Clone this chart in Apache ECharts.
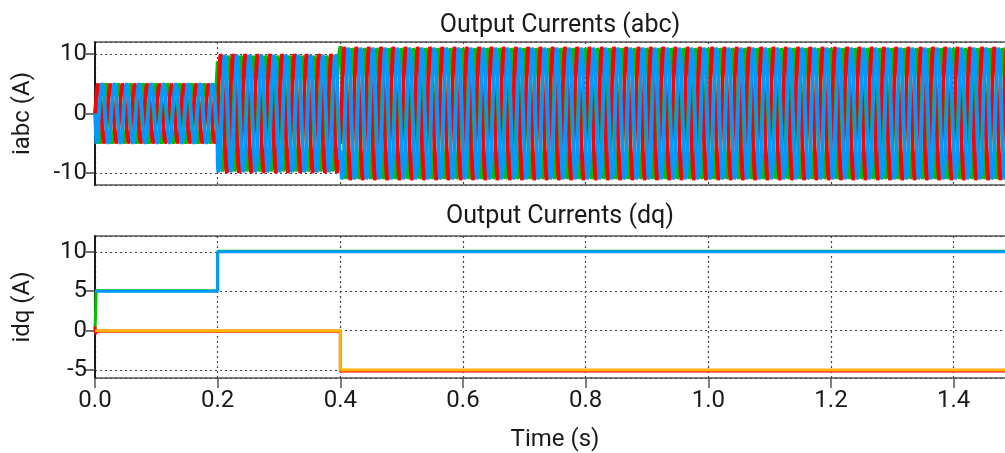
<!DOCTYPE html>
<html>
<head>
<meta charset="utf-8">
<script src="https://cdn.jsdelivr.net/npm/echarts@6/dist/echarts.min.js"></script>
<style>
html,body{margin:0;padding:0;background:#fff;}
#c{width:1005px;height:453px;}
</style>
</head>
<body>
<div id="c"></div>
<script>
// ---- data ----
const xTicks = [0.0, 0.2, 0.4, 0.6, 0.8, 1.0, 1.2, 1.4];
const abcTicks = [-10, 0, 10];
const dqTicks = [-5, 0, 5, 10];
const stepTimes = [0.0, 0.2, 0.4];           // s, instants where references change
const dRef = [5, 10, 10];                    // A, d-axis reference (blue)
const qRef = [0, 0, -5];                     // A, q-axis reference (orange)
const dMeas = [5.07, 10.07, 10.07];          // A, measured d (green), slightly above ref
const qMeas = [-0.07, -0.07, -5.12];         // A, measured q (red), slightly below ref
const startTransientD = [[0.0, 0.0], [0.002, 5.07]];
const startTransientQ = [[0.0, 0.5], [0.001, -0.4], [0.003, -0.07]];
const tEnd = 1.5;
const gridFrequency = 50;                    // Hz
const samplesPerCycle = 40;

// ---- build series ----
function stepSeries(vals) {
  const out = [];
  for (let i = 0; i < stepTimes.length; i++) {
    out.push([stepTimes[i], vals[i]]);
    const tNext = i + 1 < stepTimes.length ? stepTimes[i + 1] : tEnd;
    out.push([tNext, vals[i]]);
  }
  return out;
}
function valueAt(vals, t) {
  let v = vals[0];
  for (let i = 0; i < stepTimes.length; i++) if (t >= stepTimes[i]) v = vals[i];
  return v;
}
const dRefData = stepSeries(dRef);
const qRefData = stepSeries(qRef);
const dMeasData = startTransientD.concat(stepSeries(dMeas).slice(1));
const qMeasData = startTransientQ.concat(stepSeries(qMeas).slice(1));

// abc currents via inverse Park transform of measured d/q
const phaseShift = { a: 0, b: -2 * Math.PI / 3, c: 2 * Math.PI / 3 };
const ia = [], ib = [], ic = [];
const nSamples = Math.round(tEnd * gridFrequency * samplesPerCycle);
for (let k = 0; k <= nSamples; k++) {
  const t = k * tEnd / nSamples;
  const th = 2 * Math.PI * gridFrequency * t;
  const ramp = Math.min(1, t / 0.002);
  const d = valueAt(dMeas, t) * ramp, q = valueAt(qMeas, t) * ramp;
  const f = p => d * Math.sin(th - p) + q * Math.cos(th - p);
  ia.push([t, f(phaseShift.a)]);
  ib.push([t, f(phaseShift.b)]);
  ic.push([t, f(phaseShift.c)]);
}

const FONT = 'Roboto';
const TXT = '#1a1a1a';
const TICK_FS = 24;
const gridLine = { show: true, lineStyle: { color: '#444', width: 1.2, type: [2, 3] } };

const chart = echarts.init(document.getElementById('c'), null, { renderer: 'canvas' });
chart.setOption({
  animation: false,
  backgroundColor: '#fff',
  textStyle: { fontFamily: FONT },
  title: [
    { text: 'Output Currents (abc)', left: 555, top: 8, textAlign: 'center',
      textStyle: { fontFamily: FONT, fontSize: 25, fontWeight: 'normal', color: TXT } },
    { text: 'Output Currents (dq)', left: 555, top: 199, textAlign: 'center',
      textStyle: { fontFamily: FONT, fontSize: 25, fontWeight: 'normal', color: TXT } }
  ],
  grid: [
    { left: 95, width: 920, top: 42, height: 143, show: true, borderColor: '#808080', borderWidth: 2,
      outerBoundsMode: 'none', containLabel: false },
    { left: 95, width: 920, top: 236, height: 142, show: true, borderColor: '#808080', borderWidth: 2,
      outerBoundsMode: 'none', containLabel: false }
  ],
  xAxis: [
    { type: 'value', gridIndex: 0, min: 0, max: tEnd, interval: xTicks[1] - xTicks[0],
      axisLine: { show: false, onZero: false }, axisTick: { show: false }, axisLabel: { show: false },
      splitLine: gridLine },
    { type: 'value', gridIndex: 1, min: 0, max: tEnd, interval: xTicks[1] - xTicks[0],
      name: 'Time (s)', nameLocation: 'middle', nameGap: 50,
      nameTextStyle: { fontFamily: FONT, fontSize: TICK_FS, color: TXT },
      axisLine: { show: false, onZero: false },
      axisTick: { show: true, inside: false, length: 10, lineStyle: { color: '#555', width: 1.5 } },
      axisLabel: { fontFamily: FONT, fontSize: TICK_FS, color: TXT, margin: 11, showMaxLabel: false,
        formatter: v => xTicks.some(x => Math.abs(x - v) < 1e-9) ? v.toFixed(1) : '' },
      splitLine: gridLine }
  ],
  yAxis: [
    { type: 'value', gridIndex: 0, min: -12, max: 12, splitNumber: 2,
      name: 'iabc (A)', nameLocation: 'middle', nameGap: 60,
      nameTextStyle: { fontFamily: FONT, fontSize: TICK_FS, color: TXT },
      axisLine: { show: true, onZero: false, lineStyle: { color: '#000', width: 1.5 } },
      axisTick: { show: true, length: 9, lineStyle: { color: '#444', width: 1.5 } },
      axisLabel: { fontFamily: FONT, fontSize: TICK_FS, color: TXT, margin: 8, showMinLabel: false, showMaxLabel: false,
        formatter: v => abcTicks.includes(v) ? String(v) : '' },
      splitLine: gridLine },
    { type: 'value', gridIndex: 1, min: -6, max: 12, splitNumber: 4,
      name: 'idq (A)', nameLocation: 'middle', nameGap: 60,
      nameTextStyle: { fontFamily: FONT, fontSize: TICK_FS, color: TXT },
      axisLine: { show: true, onZero: false, lineStyle: { color: '#000', width: 1.5 } },
      axisTick: { show: true, length: 9, lineStyle: { color: '#444', width: 1.5 } },
      axisLabel: { fontFamily: FONT, fontSize: TICK_FS, color: TXT, margin: 8, showMinLabel: false, showMaxLabel: false,
        formatter: v => dqTicks.includes(v) ? String(v) : '' },
      splitLine: gridLine }
  ],
  series: [
    { type: 'line', xAxisIndex: 0, yAxisIndex: 0, data: ib, showSymbol: false,
      lineStyle: { color: '#00c000', width: 3.6 } },
    { type: 'line', xAxisIndex: 0, yAxisIndex: 0, data: ia, showSymbol: false,
      lineStyle: { color: '#ff0000', width: 3.6 } },
    { type: 'line', xAxisIndex: 0, yAxisIndex: 0, data: ic, showSymbol: false,
      lineStyle: { color: '#0099ff', width: 3.6 } },
    { type: 'line', xAxisIndex: 1, yAxisIndex: 1, data: dMeasData, showSymbol: false,
      lineStyle: { color: '#00c000', width: 3 } },
    { type: 'line', xAxisIndex: 1, yAxisIndex: 1, data: qMeasData, showSymbol: false,
      lineStyle: { color: '#ff0000', width: 3 } },
    { type: 'line', xAxisIndex: 1, yAxisIndex: 1, data: dRefData, showSymbol: false,
      lineStyle: { color: '#0099ff', width: 3 } },
    { type: 'line', xAxisIndex: 1, yAxisIndex: 1, data: qRefData, showSymbol: false,
      lineStyle: { color: '#ffb400', width: 3 } }
  ]
});
</script>
</body>
</html>
